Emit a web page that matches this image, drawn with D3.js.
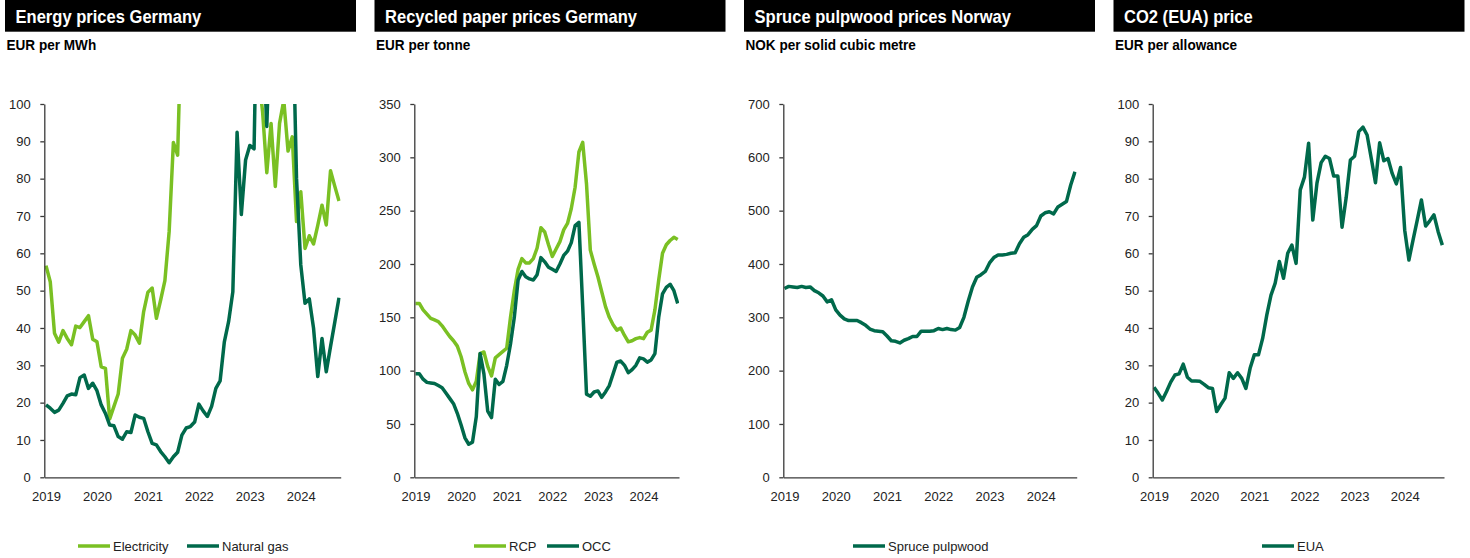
<!DOCTYPE html>
<html>
<head>
<meta charset="utf-8">
<script src="https://cdn.jsdelivr.net/npm/d3@7"></script>
<style>
  body { margin: 0; background: #fff; }
  svg { display: block; }
  .tick text { font-family: "Liberation Sans", Arial, sans-serif; font-size: 13px; fill: #222; }
</style>
</head>
<body>
<script>
// Monthly data, Jan 2019 onwards
var years = ["2019", "2020", "2021", "2022", "2023", "2024"];

var electricity = [56.7, 52.4, 38.6, 36.2, 39.3, 37.2, 35.5, 40.5, 40.1, 41.7, 43.3, 37.0,
  36.3, 29.6, 29.2, 15.6, 19.0, 22.3, 31.9, 34.3, 39.3, 38.1, 35.9, 44.4,
  49.6, 50.7, 42.6, 47.5, 52.7, 65.8, 89.7, 86.3, 128, 139, 176, 221,
  168, 129, 252, 166, 178, 218, 315, 465, 397, 189, 176, 252,
  118, 128, 108, 98, 81.6, 94.8, 77.9, 94.8, 101, 87.4, 91.2, 68.5,
  76.5, 61.3, 64.7, 62.5, 67.5, 72.9, 67.6, 82.1, 78.0, 74.0];

var naturalGas = [19.4, 18.5, 17.4, 18.0, 19.8, 21.8, 22.3, 22.1, 26.7, 27.4, 23.8, 25.2,
  23.2, 19.4, 17.1, 14.0, 13.8, 10.9, 10.2, 12.2, 12.0, 16.7, 16.1, 15.8,
  12.2, 9.1, 8.7, 6.9, 5.5, 3.9, 5.5, 6.7, 11.3, 13.2, 13.6, 14.8,
  19.6, 17.8, 16.3, 19.0, 23.8, 25.8, 36.3, 41.7, 49.7, 92.4, 70.4, 85.0,
  88.9, 88.0, 150, 120, 94, 130, 150, 160, 150, 140, 130, 80,
  56.9, 46.6, 47.8, 40.0, 27.0, 37.2, 28.3, 35.0, 41.5, 48.1];

var rcp = [163, 163, 157, 153, 149, 147.5, 146, 142, 137, 132, 128, 123,
  113, 99, 88, 82, 90, 116, 117.5, 104, 95, 112, 115, 118,
  121, 150, 175, 195, 205, 201, 201, 205, 215, 234, 230, 218,
  207, 214, 221, 232, 238, 252, 272, 305, 314, 275, 213, 200,
  188, 174, 160, 150, 143, 138, 140, 133, 127, 128, 130, 131,
  130, 136, 138, 157, 185, 210, 218, 222, 225, 223];

var occ = [97, 97, 92, 89, 88.5, 88, 86, 84, 79, 74, 69, 60,
  49, 37, 31, 33, 57, 116, 97, 62, 56, 92, 87, 90,
  105, 125, 150, 185, 193, 188, 186, 185, 190, 206, 202, 197,
  195, 193, 200, 208, 212, 220, 236, 239, 160, 78, 76, 80,
  81, 75, 80, 86, 97, 108, 109, 105, 98, 101, 105, 112,
  111, 108, 110, 116, 150, 172, 178, 181, 175, 163];

var sprucePulpwood = [354, 358, 357, 356, 358, 356, 357, 350, 346, 340, 329, 333,
  314, 304, 297, 294, 294, 294, 290, 285, 278, 275, 274, 273,
  265, 256, 255, 252, 257, 260, 264, 264, 274, 274, 274, 275,
  279, 277, 279, 277, 276, 281, 300, 330, 357, 375, 380, 386,
  402, 412, 417, 417, 418, 420, 421, 438, 450, 455, 465, 472,
  490, 496, 498, 494, 507, 512, 517, 548, 573];

var eua = [24.1, 22.5, 20.7, 23.0, 25.5, 27.4, 27.7, 30.3, 26.8, 25.8, 25.8, 25.7,
  24.9, 24.0, 23.8, 17.6, 19.5, 21.2, 28.0, 26.5, 28.0, 26.5, 23.8, 29.2,
  32.8, 32.8, 37.2, 43.5, 48.8, 52.0, 57.8, 53.3, 60.0, 62.2, 57.3, 77.0,
  80.4, 89.5, 68.9, 78.8, 84.3, 86.0, 85.4, 80.7, 80.7, 67.0, 75.0, 85.0,
  86.0, 92.6, 93.8, 91.7, 85.4, 78.9, 89.6, 84.8, 85.4, 81.4, 78.6, 83.0,
  66.2, 58.2, 63.6, 68.9, 74.3, 67.3, 68.7, 70.3, 65.8, 62.2];

var lightGreen = "#7ac023";
var darkGreen = "#00694b";

var svgWidth = 1470;
var svgHeight = 558;
var plotTop = 104;
var plotBottom = 477.3;

var panels = [
  { title: "Energy prices Germany", unit: "EUR per MWh", barX: 5,
    yMax: 100, yStep: 10, axisL: 44.3, axisR: 340.7, lo: -0.4, hi: 69.4,
    series: [{ name: "Electricity", values: electricity, color: lightGreen, lx: 78 },
             { name: "Natural gas", values: naturalGas, color: darkGreen, lx: 187 }] },
  { title: "Recycled paper prices Germany", unit: "EUR per tonne", barX: 374.5,
    yMax: 350, yStep: 50, axisL: 414.3, axisR: 679, lo: -0.32, hi: 69.34,
    series: [{ name: "RCP", values: rcp, color: lightGreen, lx: 474 },
             { name: "OCC", values: occ, color: darkGreen, lx: 547 }] },
  { title: "Spruce pulpwood prices Norway", unit: "NOK per solid cubic metre", barX: 744,
    yMax: 700, yStep: 100, axisL: 783.3, axisR: 1076.7, lo: -0.28, hi: 68.4,
    series: [{ name: "Spruce pulpwood", values: sprucePulpwood, color: darkGreen, lx: 853 }] },
  { title: "CO2 (EUA) price", unit: "EUR per allowance", barX: 1113.5,
    yMax: 100, yStep: 10, axisL: 1152.7, axisR: 1444, lo: -0.31, hi: 69.4,
    series: [{ name: "EUA", values: eua, color: darkGreen, lx: 1262 }] }
];

var svg = d3.select("body")
  .append("svg")
  .attr("width", svgWidth)
  .attr("height", svgHeight);

panels.forEach(function(p, k) {
  var g = svg.append("g");

  // title bar
  g.append("rect")
    .attr("x", p.barX)
    .attr("y", 0)
    .attr("width", 351)
    .attr("height", 31.7)
    .attr("fill", "#000");

  // headline font is a condensed grotesque, squeeze it a bit
  g.append("text")
    .attr("transform", `translate(${p.barX + 10.5}, 23.3) scale(0.92, 1)`)
    .attr("fill", "#fff")
    .style("font-family", "'Liberation Sans', Arial, sans-serif")
    .style("font-weight", "bold")
    .style("font-size", "18px")
    .text(p.title);

  g.append("text")
    .attr("transform", `translate(${p.barX + 1.5}, 50) scale(0.97, 1)`)
    .attr("fill", "#000")
    .style("font-family", "'Liberation Sans', Arial, sans-serif")
    .style("font-weight", "bold")
    .style("font-size", "14px")
    .text(p.unit);

  var xScale = d3.scaleLinear()
    .domain([p.lo, p.hi])
    .range([p.axisL, p.axisR]);

  var yScale = d3.scaleLinear()
    .domain([0, p.yMax])
    .range([plotBottom, plotTop]);

  var clipId = "clip" + k;
  svg.append("clipPath")
    .attr("id", clipId)
    .append("rect")
    .attr("x", p.axisL)
    .attr("y", plotTop)
    .attr("width", p.axisR - p.axisL)
    .attr("height", plotBottom - plotTop);

  var line = d3.line()
    .x((d, i) => xScale(i))
    .y(d => yScale(d));

  g.selectAll(".series")
    .data(p.series)
    .enter()
    .append("path")
    .attr("clip-path", "url(#" + clipId + ")")
    .attr("d", d => line(d.values))
    .attr("fill", "none")
    .attr("stroke", d => d.color)
    .attr("stroke-width", 3.5)
    .attr("stroke-linejoin", "round");

  var yAxis = d3.axisLeft(yScale)
    .tickValues(d3.range(0, p.yMax + 1, p.yStep))
    .tickSize(4)
    .tickSizeOuter(0)
    .tickPadding(9.5);

  var xAxis = d3.axisBottom(xScale)
    .tickValues(years.map((y, i) => i * 12))
    .tickFormat((d, i) => years[i])
    .tickSize(0)
    .tickPadding(14.5);

  var yg = g.append("g")
    .attr("transform", `translate(${p.axisL}, 0)`)
    .call(yAxis);

  var xg = g.append("g")
    .attr("transform", `translate(0, ${plotBottom})`)
    .call(xAxis);

  [yg, xg].forEach(function(a) {
    a.select(".domain").attr("stroke", "#3a3a3a").attr("stroke-width", 1.3);
    a.selectAll(".tick line").attr("stroke", "#3a3a3a").attr("stroke-width", 1.3);
  });

  // legend
  var leg = g.selectAll(".legend")
    .data(p.series)
    .enter()
    .append("g");

  leg.append("line")
    .attr("x1", d => d.lx)
    .attr("x2", d => d.lx + 32)
    .attr("y1", 546)
    .attr("y2", 546)
    .attr("stroke", d => d.color)
    .attr("stroke-width", 3.5);

  leg.append("text")
    .attr("x", d => d.lx + 35)
    .attr("y", 546)
    .attr("dy", "0.35em")
    .attr("fill", "#222")
    .style("font-family", "'Liberation Sans', Arial, sans-serif")
    .style("font-size", "13px")
    .text(d => d.name);
});
</script>
</body>
</html>
